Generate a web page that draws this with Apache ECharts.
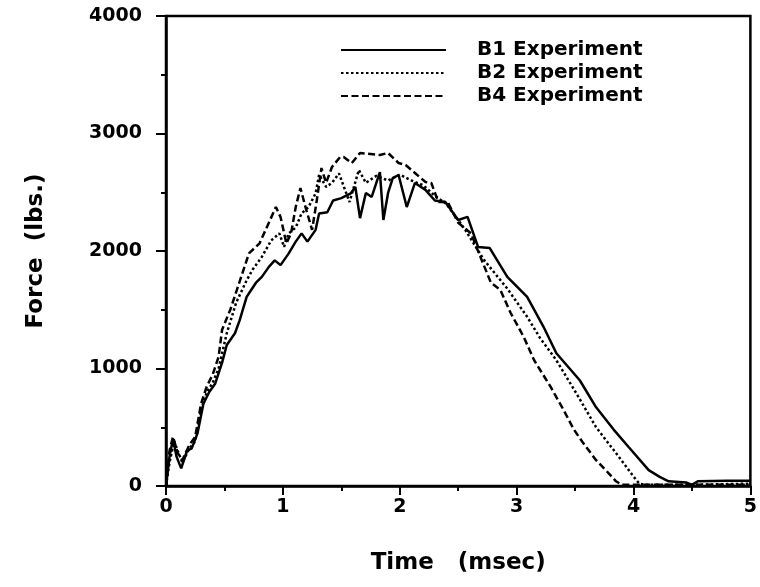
<!DOCTYPE html>
<html>
<head>
<meta charset="utf-8">
<script src="https://cdn.jsdelivr.net/npm/echarts@6/dist/echarts.min.js"></script>
<style>
  html, body { margin: 0; padding: 0; background: #fff; }
  #forcechart { width: 760px; height: 587px; }
</style>
</head>
<body>
<div id="forcechart"></div>
<script>
// time (msec) and force (lbs.)
var b1Time = [0, 0.03, 0.06, 0.09, 0.13, 0.18, 0.22, 0.27, 0.32, 0.37, 0.42, 0.48, 0.52, 0.59, 0.63, 0.69, 0.73, 0.77, 0.82, 0.88, 0.93, 0.98, 1.05, 1.11, 1.16, 1.21, 1.28, 1.31, 1.38, 1.43, 1.50, 1.58, 1.62, 1.66, 1.71, 1.76, 1.83, 1.86, 1.90, 1.94, 1.99, 2.06, 2.13, 2.22, 2.30, 2.39, 2.50, 2.58, 2.67, 2.77, 2.92, 3.09, 3.23, 3.34, 3.54, 3.68, 3.83, 3.96, 4.13, 4.22, 4.30, 4.45, 4.50, 4.55, 4.80, 5.00];
var b1Force = [0, 250, 400, 250, 150, 300, 320, 450, 700, 800, 870, 1050, 1200, 1300, 1410, 1610, 1670, 1730, 1780, 1865, 1920, 1880, 1980, 2080, 2150, 2080, 2180, 2320, 2330, 2430, 2450, 2490, 2545, 2280, 2494, 2460, 2672, 2264, 2494, 2620, 2647, 2374, 2579, 2520, 2430, 2417, 2264, 2290, 2035, 2025, 1780, 1610, 1355, 1130, 900, 670, 480, 330, 135, 80, 40, 30, 10, 40, 45, 45];

var b2Time = [0, 0.03, 0.07, 0.10, 0.14, 0.20, 0.25, 0.30, 0.35, 0.40, 0.45, 0.52, 0.60, 0.69, 0.74, 0.82, 0.90, 0.97, 1.01, 1.05, 1.11, 1.16, 1.22, 1.28, 1.31, 1.37, 1.42, 1.48, 1.57, 1.65, 1.71, 1.80, 1.90, 2.00, 2.10, 2.20, 2.30, 2.40, 2.56, 2.72, 2.92, 3.09, 3.20, 3.34, 3.51, 3.68, 3.85, 4.00, 4.05, 4.10, 4.50, 5.00];
var b2Force = [0, 200, 380, 300, 200, 320, 380, 650, 800, 880, 1000, 1300, 1560, 1750, 1840, 1950, 2090, 2150, 2035, 2150, 2200, 2320, 2375, 2490, 2650, 2545, 2580, 2660, 2417, 2690, 2580, 2640, 2600, 2650, 2600, 2560, 2470, 2400, 2180, 1925, 1680, 1440, 1260, 1070, 790, 500, 280, 80, 20, 10, 10, 20];

var b4Time = [0, 0.03, 0.06, 0.10, 0.14, 0.20, 0.25, 0.30, 0.35, 0.40, 0.45, 0.48, 0.55, 0.60, 0.71, 0.80, 0.88, 0.94, 0.98, 1.03, 1.07, 1.11, 1.15, 1.20, 1.25, 1.29, 1.33, 1.37, 1.42, 1.49, 1.52, 1.59, 1.66, 1.83, 1.90, 1.99, 2.05, 2.13, 2.22, 2.27, 2.33, 2.41, 2.50, 2.61, 2.69, 2.78, 2.86, 2.95, 3.06, 3.15, 3.29, 3.40, 3.49, 3.57, 3.68, 3.80, 3.85, 3.90, 5.00];
var b4Force = [0, 300, 420, 280, 220, 350, 420, 700, 850, 950, 1100, 1330, 1500, 1650, 1980, 2065, 2240, 2375, 2290, 2065, 2150, 2375, 2535, 2350, 2180, 2430, 2706, 2580, 2715, 2800, 2800, 2749, 2834, 2817, 2834, 2749, 2732, 2664, 2587, 2579, 2417, 2417, 2240, 2150, 1950, 1730, 1670, 1470, 1270, 1070, 845, 650, 480, 365, 220, 95, 40, 10, 10];

var seriesNames = ['B1 Experiment', 'B2 Experiment', 'B4 Experiment'];
var xTicks = [0, 1, 2, 3, 4, 5];
var yTicks = [0, 1000, 2000, 3000, 4000];

function pairs(t, f) {
  return t.map(function (v, i) { return [v, f[i]]; });
}

var boldFont = {
  fontFamily: 'DejaVu Sans',
  fontWeight: 'bold',
  color: '#000'
};

var forceChart = echarts.init(document.getElementById('forcechart'));
var option = {
  animation: false,
  backgroundColor: '#fff',
  grid: {
    left: 166,
    right: 5,
    top: 16,
    bottom: 101,
    show: true,
    borderColor: '#000',
    borderWidth: 2.5
  },
  legend: {
    orient: 'vertical',
    left: 335,
    top: 35,
    itemWidth: 105,
    itemHeight: 14,
    itemGap: 3,
    data: seriesNames,
    itemStyle: { opacity: 0 },
    textStyle: Object.assign({ fontSize: 20, padding: [0, 0, 0, 26] }, boldFont)
  },
  xAxis: {
    type: 'value',
    min: xTicks[0],
    max: xTicks[xTicks.length - 1],
    interval: 1,
    name: 'Time   (msec)',
    nameLocation: 'middle',
    nameGap: 66,
    nameTextStyle: Object.assign({ fontSize: 23 }, boldFont),
    axisLine: { lineStyle: { color: '#000', width: 2.5 } },
    axisTick: { length: 9, lineStyle: { color: '#000', width: 2 } },
    minorTick: { show: true, splitNumber: 2, length: 5, lineStyle: { color: '#000', width: 2 } },
    axisLabel: Object.assign({ fontSize: 19, margin: 12 }, boldFont),
    splitLine: { show: false }
  },
  yAxis: {
    type: 'value',
    min: yTicks[0],
    max: yTicks[yTicks.length - 1],
    interval: 1000,
    name: 'Force  (lbs.)',
    nameLocation: 'middle',
    nameGap: 118,
    nameTextStyle: Object.assign({ fontSize: 23 }, boldFont),
    axisLine: { show: true, lineStyle: { color: '#000', width: 2.5 } },
    axisTick: { show: true, length: 10, lineStyle: { color: '#000', width: 2 } },
    minorTick: { show: true, splitNumber: 2, length: 5, lineStyle: { color: '#000', width: 2 } },
    axisLabel: Object.assign({ fontSize: 19, margin: 24, formatter: function (v) { return String(v); } }, boldFont),
    splitLine: { show: false }
  },
  series: [
    {
      name: seriesNames[0],
      type: 'line',
      data: pairs(b1Time, b1Force),
      showSymbol: false,
      symbol: 'none',
      color: '#000',
      lineStyle: { color: '#000', width: 2.5 }
    },
    {
      name: seriesNames[1],
      type: 'line',
      data: pairs(b2Time, b2Force),
      showSymbol: false,
      symbol: 'none',
      color: '#000',
      lineStyle: { color: '#000', width: 2.5, type: [2.5, 2.5] }
    },
    {
      name: seriesNames[2],
      type: 'line',
      data: pairs(b4Time, b4Force),
      showSymbol: false,
      symbol: 'none',
      color: '#000',
      lineStyle: { color: '#000', width: 2.5, type: [7, 3.5] }
    }
  ]
};
option && forceChart.setOption(option);
</script>
</body>
</html>
